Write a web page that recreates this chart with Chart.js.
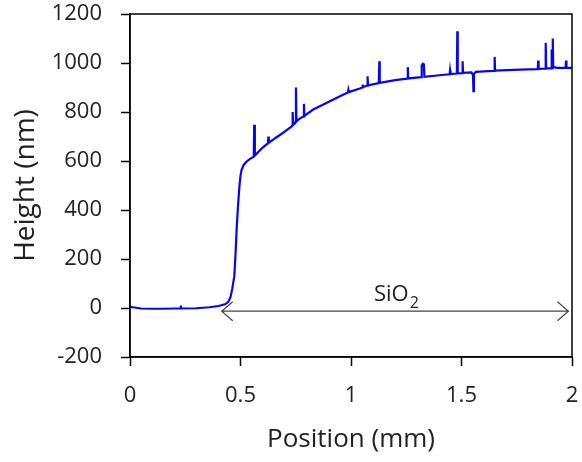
<!DOCTYPE html>
<html>
<head>
<meta charset="utf-8">
<script src="https://cdn.jsdelivr.net/npm/chart.js@4/dist/chart.umd.min.js"></script>
<style>
  html, body { margin: 0; padding: 0; background: #fff; }
  #wrap { width: 582px; height: 462px; }
</style>
</head>
<body>
<div id="wrap"><canvas id="profile"></canvas></div>
<script>
// step profile of the SiO2 film (position in mm, height in nm)
const positionMm = [
  0.000, 0.020, 0.050, 0.100, 0.150, 0.200, 0.228, 0.230, 0.232, 0.300,
  0.360, 0.400, 0.430, 0.445, 0.455, 0.463, 0.472, 0.478, 0.483, 0.489,
  0.495, 0.500, 0.505, 0.515, 0.528, 0.545, 0.560, 0.562, 0.565, 0.600,
  0.624, 0.626, 0.628, 0.660, 0.700, 0.730, 0.734, 0.736, 0.738, 0.745,
  0.749, 0.751, 0.753, 0.760, 0.785, 0.787, 0.789, 0.829, 0.845, 0.900,
  0.950, 0.986, 0.988, 0.990, 1.040, 1.050, 1.052, 1.054, 1.073, 1.075,
  1.077, 1.126, 1.128, 1.130, 1.200, 1.255, 1.257, 1.259, 1.318, 1.320,
  1.325, 1.330, 1.332, 1.400, 1.446, 1.448, 1.450, 1.479, 1.481, 1.483,
  1.503, 1.505, 1.507, 1.545, 1.552, 1.554, 1.556, 1.565, 1.620, 1.648,
  1.650, 1.652, 1.735, 1.800, 1.845, 1.847, 1.849, 1.879, 1.881, 1.883,
  1.905, 1.907, 1.909, 1.911, 1.913, 1.915, 1.930, 1.971, 1.973, 1.975,
  2.000
];
const heightNm = [
  5, 2, -2, -3, -3, -2, -2, 10, -2, -1,
  3, 8, 15, 25, 45, 80, 130, 230, 330, 420,
  496, 540, 564, 585, 598, 610, 618, 748, 622, 655,
  672, 700, 674, 695, 720, 740, 745, 800, 748, 752,
  760, 900, 762, 768, 782, 833, 784, 810, 817, 842,
  864, 880, 890, 881, 896, 900, 912, 901, 908, 946,
  909, 918, 1007, 919, 930, 936, 983, 937, 942, 990,
  997, 994, 944, 950, 954, 970, 955, 957, 1130, 958,
  959, 1007, 960, 962, 950, 885, 955, 964, 967, 968,
  1025, 969, 972, 974, 975, 1010, 976, 977, 1083, 978,
  978, 1055, 979, 979, 1100, 985, 980, 981, 1010, 981,
  980
];
const xTicks = [0, 0.5, 1, 1.5, 2];
const yTicks = [-200, 0, 200, 400, 600, 800, 1000, 1200];

// extent of the oxide layer, drawn as a double arrow
const filmStartMm = 0.415;
const filmEndMm = 1.984;
const filmArrowNm = -13;
const filmLabelMm = 1.203;

Chart.defaults.font.family = "'Open Sans', sans-serif";
Chart.defaults.color = '#222';

// drop the extra room chart.js reserves for edge labels
function noEdgePadding(s) {
  s.paddingTop = 0;
  s.paddingBottom = 0;
  s.paddingLeft = 0;
  s.paddingRight = 0;
}

const frame = {
  id: 'frame',
  afterDraw(chart) {
    const {ctx, chartArea: a} = chart;
    ctx.save();
    ctx.strokeStyle = '#000';
    ctx.lineWidth = 1.5;
    ctx.strokeRect(a.left, a.top, a.right - a.left, a.bottom - a.top);
    ctx.restore();
  }
};

const filmArrow = {
  id: 'filmArrow',
  afterDatasetsDraw(chart) {
    const {ctx, scales: {x, y}} = chart;
    const x0 = x.getPixelForValue(filmStartMm);
    const x1 = x.getPixelForValue(filmEndMm);
    const yy = y.getPixelForValue(filmArrowNm);
    ctx.save();
    ctx.strokeStyle = '#444';
    ctx.lineWidth = 1.2;
    ctx.beginPath();
    ctx.moveTo(x0, yy);
    ctx.lineTo(x1, yy);
    ctx.moveTo(x0 + 11, yy - 9.5);
    ctx.lineTo(x0, yy);
    ctx.lineTo(x0 + 11, yy + 9.5);
    ctx.moveTo(x1 - 11, yy - 9.5);
    ctx.lineTo(x1, yy);
    ctx.lineTo(x1 - 11, yy + 9.5);
    ctx.stroke();

    // SiO2 with subscript
    const lx = x.getPixelForValue(filmLabelMm);
    ctx.fillStyle = '#222';
    ctx.textBaseline = 'alphabetic';
    ctx.font = "22px 'Open Sans', sans-serif";
    const main = 'SiO';
    const w1 = ctx.measureText(main).width;
    ctx.font = "16px 'Open Sans', sans-serif";
    const w2 = ctx.measureText('2').width;
    const sx = lx - (w1 + w2) / 2;
    ctx.font = "22px 'Open Sans', sans-serif";
    ctx.fillText(main, sx, yy - 10);
    ctx.font = "16px 'Open Sans', sans-serif";
    ctx.fillText('2', sx + w1 + 1, yy - 3);
    ctx.restore();
  }
};

new Chart('profile', {
  type: 'line',
  data: {
    datasets: [{
      data: positionMm.map((p, i) => ({x: p, y: heightNm[i]})),
      borderColor: '#0505ee',
      borderWidth: 2.2,
      pointRadius: 0,
      tension: 0,
      fill: false
    }]
  },
  options: {
    responsive: true,
    maintainAspectRatio: false,
    animation: false,
    layout: {padding: {left: 0, right: 10, top: 14, bottom: 0}},
    plugins: {
      legend: {display: false},
      tooltip: {enabled: false}
    },
    scales: {
      x: {
        type: 'linear',
        min: 0,
        max: 2,
        afterBuildTicks: s => { s.ticks = xTicks.map(v => ({value: v})); },
        afterFit: s => { s.height = 105; noEdgePadding(s); },
        grid: {drawOnChartArea: false, tickLength: 9, tickColor: '#000', tickWidth: 1.5},
        border: {color: '#000', width: 1.5},
        ticks: {font: {size: 22}, padding: 17, maxRotation: 0, color: '#222', callback: v => String(v)},
        title: {display: true, text: 'Position (mm)', font: {size: 26}, color: '#222', padding: {top: 0, bottom: 7}}
      },
      y: {
        min: -200,
        max: 1200,
        afterBuildTicks: s => { s.ticks = yTicks.map(v => ({value: v})); },
        afterFit: s => { s.width = 130; noEdgePadding(s); },
        grid: {drawOnChartArea: false, tickLength: 9, tickColor: '#000', tickWidth: 1.5},
        border: {color: '#000', width: 1.5},
        ticks: {font: {size: 22}, padding: 19, color: '#222', callback: v => String(v)},
        title: {display: true, text: 'Height (nm)', font: {size: 28}, color: '#222', padding: {top: 9, bottom: 0}}
      }
    }
  },
  plugins: [frame, filmArrow]
});
</script>
</body>
</html>
